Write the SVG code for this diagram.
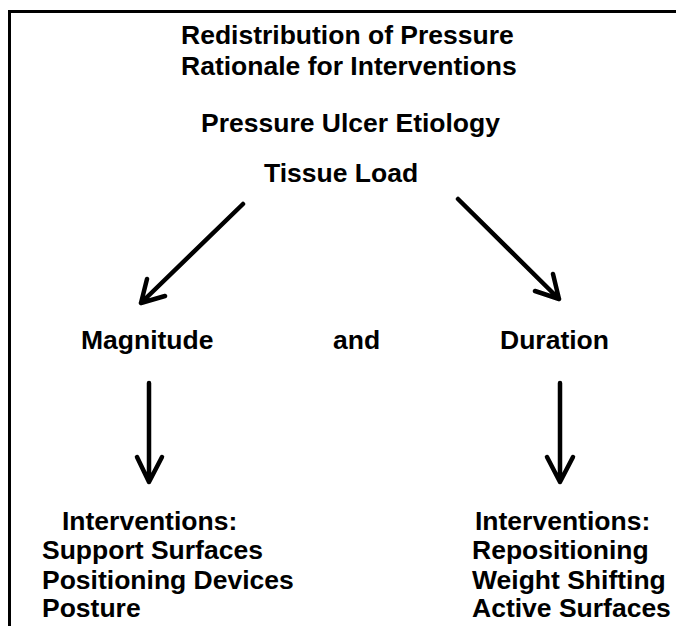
<svg xmlns="http://www.w3.org/2000/svg" width="676" height="626" viewBox="0 0 676 626">
<style>
text{font-family:"Liberation Sans",Arial,sans-serif;font-weight:bold;fill:#000;font-size:26.5px}
.c{stroke:#000;stroke-width:4.5;fill:none;stroke-linecap:round;stroke-linejoin:round}
</style>
<rect width="676" height="626" fill="#fff"/>
<path d="M9.5 626V11.5H676" stroke="#000" stroke-width="3" fill="none"/>
<g id="title">
<text x="181" y="44">Redistribution of Pressure</text>
<text x="181" y="75">Rationale for Interventions</text>
</g>
<g id="etiology"><text x="201" y="132">Pressure Ulcer Etiology</text></g>
<g id="tissue-load"><text x="264" y="182">Tissue Load</text></g>
<g id="magnitude"><text x="81" y="349">Magnitude</text></g>
<g id="and"><text x="333" y="349">and</text></g>
<g id="duration"><text x="500" y="349">Duration</text></g>
<g id="magnitude-interventions">
<text x="62" y="530">Interventions:</text>
<text x="42" y="559">Support Surfaces</text>
<text x="42" y="589">Positioning Devices</text>
<text x="42" y="617">Posture</text>
</g>
<g id="duration-interventions">
<text x="475" y="530">Interventions:</text>
<text x="472" y="559">Repositioning</text>
<text x="472" y="589">Weight Shifting</text>
<text x="472" y="617">Active Surfaces</text>
</g>
<g id="connectors" class="c">
<path d="M243 204L141 303M147 279L141 303L165 296"/>
<path d="M458 199L559 299M535 291L559 299L553 274"/>
<path d="M149 383V482M137 457L149 482L162 457"/>
<path d="M560 383V482M547 457L560 482L573 457"/>
</g>
</svg>
